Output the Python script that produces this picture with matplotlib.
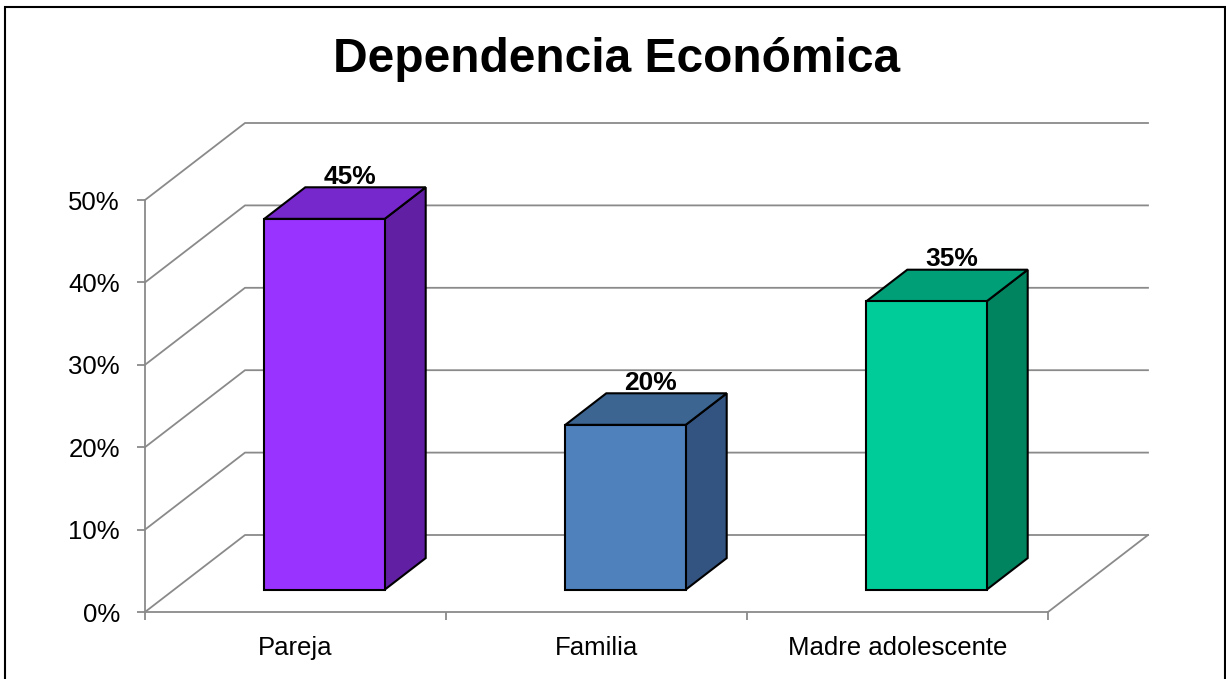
import matplotlib
matplotlib.use('Agg')
import matplotlib.pyplot as plt
from matplotlib.patches import Polygon, Rectangle
from matplotlib.lines import Line2D

plt.rcParams['font.family'] = ['Liberation Sans', 'DejaVu Sans']

categories = ['Pareja', 'Familia', 'Madre adolescente']
values = [45, 20, 35]
labels = ['45%', '20%', '35%']
yticks = [0, 10, 20, 30, 40, 50]
ytick_labels = ['0%', '10%', '20%', '30%', '40%', '50%']

front = ['#9933FF', '#4F81BD', '#00CC99']
top = ['#7728CC', '#3C6591', '#009F77']
side = ['#6120A3', '#335380', '#00845F']

grid_c = '#8a8a8a'
W, H = 1226, 679
fig = plt.figure(figsize=(W / 100, H / 100), dpi=100)

# front plane of the 3d box
ax = fig.add_axes([145 / W, (H - 612) / H, 903 / W, 412 / H])
ax.set_xlim(0, 3)
ax.set_ylim(0, 50)

# depth vector in data units (box depth)
DX = 100 / 301.0
DY = 77 / 8.24

for v in yticks:
    ax.add_line(Line2D([0, DX, 3 + DX], [v, v + DY, v + DY], color=grid_c, lw=1.3,
                       clip_on=False, zorder=1))
ax.add_line(Line2D([3, 3 + DX], [0, DY], color=grid_c, lw=1.3, clip_on=False, zorder=1))

# bars
w = 0.40
d0, d1 = 0.29, 0.70
for i, v in enumerate(values):
    x0 = i + 0.5 - w / 2 + d0 * DX
    y0 = d0 * DY
    ddx = (d1 - d0) * DX
    ddy = (d1 - d0) * DY
    ax.add_patch(Polygon([(x0 + w, y0), (x0 + w + ddx, y0 + ddy), (x0 + w + ddx, y0 + ddy + v),
                          (x0 + w, y0 + v)], closed=True, facecolor=side[i], edgecolor='black',
                         lw=1.5, clip_on=False, zorder=3))
    ax.add_patch(Polygon([(x0, y0 + v), (x0 + w, y0 + v), (x0 + w + ddx, y0 + v + ddy),
                          (x0 + ddx, y0 + v + ddy)], closed=True, facecolor=top[i], edgecolor='black',
                         lw=1.5, clip_on=False, zorder=3))
    ax.add_patch(Rectangle((x0, y0), w, v, facecolor=front[i], edgecolor='black', lw=1.5,
                           clip_on=False, zorder=4))
    ax.annotate(labels[i], (i + 0.5 + 0.54 * DX, v + d1 * DY), xytext=(0, 2.5),
                textcoords='offset points', ha='center', va='baseline', fontsize=19,
                fontweight='bold', zorder=5, annotation_clip=False)

for s in ['top', 'right']:
    ax.spines[s].set_visible(False)
for s in ['left', 'bottom']:
    ax.spines[s].set_color(grid_c)
    ax.spines[s].set_linewidth(1.3)
ax.patch.set_visible(False)

ax.set_yticks(yticks)
ax.set_yticklabels(ytick_labels, fontsize=18.5)
ax.tick_params(axis='y', length=6, color=grid_c, width=1.3, pad=12)
ax.set_xticks([0, 1, 2, 3])
ax.set_xticklabels([])
ax.tick_params(axis='x', which='major', length=6, color=grid_c, width=1.3)
ax.set_xticks([0.5, 1.5, 2.5], minor=True)
ax.set_xticklabels(categories, minor=True, fontsize=18.5)
ax.tick_params(axis='x', which='minor', length=0, pad=17)

fig.text(616.5 / W, 1 - 60 / H, 'Dependencia Económica', ha='center', va='center',
         fontsize=34.5, fontweight='bold')

# outer border
fig.add_artist(Rectangle((5 / W, -0.05), (1225 - 5) / W, 1.05 - 7 / H, transform=fig.transFigure,
                         fill=False, edgecolor='black', lw=1.5))

fig.savefig('out.png', dpi=100)
